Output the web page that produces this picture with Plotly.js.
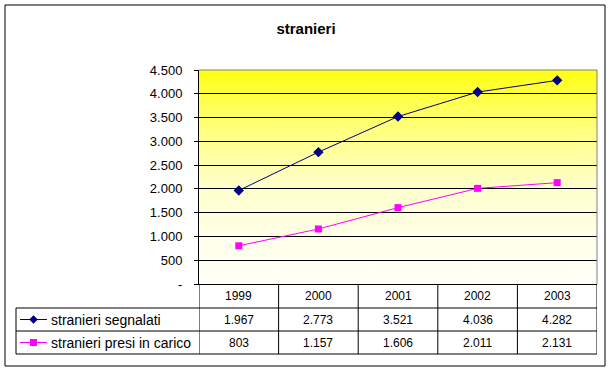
<!DOCTYPE html>
<html>
<head>
<meta charset="utf-8">
<script src="https://cdn.plot.ly/plotly-3.0.1.min.js"></script>
<style>
  html, body { margin: 0; padding: 0; background: #ffffff; }
  #chart { width: 612px; height: 371px; }
</style>
</head>
<body>
<div id="chart"></div>
<script>
// ---- data ----
const years = ['1999', '2000', '2001', '2002', '2003'];
const segnalati = [1967, 2773, 3521, 4036, 4282];
const presiInCarico = [803, 1157, 1606, 2011, 2131];
const seriesNames = ['stranieri segnalati', 'stranieri presi in carico'];
const yTickVals = [0, 500, 1000, 1500, 2000, 2500, 3000, 3500, 4000, 4500];
const yTickText = ['-', '500', '1.000', '1.500', '2.000', '2.500', '3.000', '3.500', '4.000', '4.500'];
const chartTitle = 'stranieri';

// ---- geometry helpers (pixel -> paper) ----
const W = 612, H = 371;
const L = 199, R = 597, T = 70, B = 284;
const px = p => (p - L) / (R - L);
const py = p => (B - p) / (B - T);
const FONT = 'Liberation Sans, Arial, sans-serif';

function fmt(n) {
  return String(n).replace(/\B(?=(\d{3})+(?!\d))/g, '.');
}

// gradient background image
function gradientURI() {
  const c = document.createElement('canvas');
  c.width = 8; c.height = 214;
  const g = c.getContext('2d');
  const gr = g.createLinearGradient(0, 0, 0, 214);
  gr.addColorStop(0, '#FFFF10');
  gr.addColorStop(0.15, '#FFFF50');
  gr.addColorStop(0.35, '#FFFF95');
  gr.addColorStop(0.55, '#FFFFCC');
  gr.addColorStop(0.78, '#FFFFE8');
  gr.addColorStop(1, '#FFFFF8');
  g.fillStyle = gr;
  g.fillRect(0, 0, 8, 214);
  return c.toDataURL('image/png');
}

const colors = ['#000080', '#FF00FF'];
const values = [segnalati, presiInCarico];

const traces = [
  {
    x: years, y: segnalati, type: 'scatter', mode: 'lines+markers',
    name: seriesNames[0],
    line: { color: colors[0], width: 1 },
    marker: { symbol: 'diamond', size: 8, color: colors[0] },
    hoverinfo: 'skip'
  },
  {
    x: years, y: presiInCarico, type: 'scatter', mode: 'lines+markers',
    name: seriesNames[1],
    line: { color: colors[1], width: 1 },
    marker: { symbol: 'square', size: 7, color: colors[1] },
    hoverinfo: 'skip'
  }
];

const shapes = [];
const annotations = [];

// outer chart border
shapes.push({ type: 'rect', xref: 'paper', yref: 'paper',
  x0: px(5), x1: px(605), y0: py(366), y1: py(5),
  line: { color: '#000000', width: 1 }, fillcolor: 'rgba(0,0,0,0)' });

// plot area border (top & right) grey
shapes.push({ type: 'line', xref: 'paper', yref: 'paper', x0: 0, x1: 1, y0: 1, y1: 1,
  line: { color: '#808080', width: 1 } });
shapes.push({ type: 'line', xref: 'paper', yref: 'paper', x0: 1, x1: 1, y0: 0, y1: 1,
  line: { color: '#808080', width: 1 } });

// data table lines
const rowTops = [284, 308, 331, 354];
[308, 331, 354].forEach(p => {
  shapes.push({ type: 'line', xref: 'paper', yref: 'paper', x0: px(16), x1: 1, y0: py(p), y1: py(p),
    line: { color: '#000000', width: 1 } });
});
for (let i = 0; i <= years.length; i++) {
  shapes.push({ type: 'line', xref: 'x', yref: 'paper', x0: i - 0.5, x1: i - 0.5, y0: py(284), y1: py(354),
    line: { color: '#000000', width: 1 } });
}
shapes.push({ type: 'line', xref: 'paper', yref: 'paper', x0: px(16), x1: px(16), y0: py(308), y1: py(354),
  line: { color: '#000000', width: 1 } });

// header years
years.forEach((yr, i) => {
  annotations.push({ x: i, xref: 'x', y: py(296), yref: 'paper', text: yr, showarrow: false,
    xanchor: 'center', yanchor: 'middle', font: { family: FONT, size: 12, color: '#000' } });
});

// value rows + legend keys
values.forEach((arr, r) => {
  const cy = (rowTops[r + 1] + rowTops[r + 2]) / 2;
  arr.forEach((v, i) => {
    annotations.push({ x: i, xref: 'x', y: py(cy), yref: 'paper', text: fmt(v), showarrow: false,
      xanchor: 'center', yanchor: 'middle', font: { family: FONT, size: 12, color: '#000' } });
  });
  annotations.push({ x: px(49), xref: 'paper', y: py(cy), yref: 'paper', text: seriesNames[r], showarrow: false,
    xanchor: 'left', yanchor: 'middle', font: { family: FONT, size: 14, color: '#000' } });
  shapes.push({ type: 'line', xref: 'paper', yref: 'paper', x0: px(20), x1: px(47), y0: py(cy), y1: py(cy),
    line: { color: colors[r], width: 1 } });
  const mx = 33.5;
  if (r === 0) {
    const pth = `M ${px(mx)} ${py(cy - 4)} L ${px(mx + 4)} ${py(cy)} L ${px(mx)} ${py(cy + 4)} L ${px(mx - 4)} ${py(cy)} Z`;
    shapes.push({ type: 'path', xref: 'paper', yref: 'paper', path: pth,
      fillcolor: colors[r], line: { color: colors[r], width: 0.5 } });
  } else {
    shapes.push({ type: 'rect', xref: 'paper', yref: 'paper', x0: px(mx - 3.5), x1: px(mx + 3.5), y0: py(cy + 3.5), y1: py(cy - 3.5),
      fillcolor: colors[r], line: { color: colors[r], width: 0 } });
  }
});

const layout = {
  width: W, height: H,
  margin: { l: L, r: W - R, t: T, b: H - B, pad: 0 },
  paper_bgcolor: '#ffffff',
  plot_bgcolor: 'rgba(0,0,0,0)',
  showlegend: false,
  font: { family: FONT, size: 12, color: '#000' },
  title: { text: chartTitle, x: 0.5, xref: 'container', xanchor: 'center',
    y: 1 - 29 / H, yref: 'container', yanchor: 'middle',
    font: { family: FONT, size: 15, color: '#000', weight: 'bold' } },
  xaxis: { type: 'category', range: [-0.5, years.length - 0.5], showticklabels: false,
    showgrid: false, zeroline: false, showline: true, linecolor: '#000', linewidth: 1,
    ticks: '', fixedrange: true },
  yaxis: { range: [0, 4500], tickvals: yTickVals, ticktext: yTickText,
    showgrid: true, gridcolor: '#000000', gridwidth: 1, zeroline: false,
    showline: true, linecolor: '#000', linewidth: 1,
    ticks: 'outside', ticklen: 4, tickcolor: '#000', tickwidth: 1,
    ticklabelstandoff: 9,
    tickfont: { family: FONT, size: 13, color: '#000' }, fixedrange: true },
  images: [{ source: gradientURI(), xref: 'paper', yref: 'paper', x: 0, y: 1, sizex: 1, sizey: 1,
    sizing: 'stretch', xanchor: 'left', yanchor: 'top', layer: 'below' }],
  shapes: shapes,
  annotations: annotations
};

Plotly.newPlot('chart', traces, layout, { displayModeBar: false, staticPlot: true });
</script>
</body>
</html>
